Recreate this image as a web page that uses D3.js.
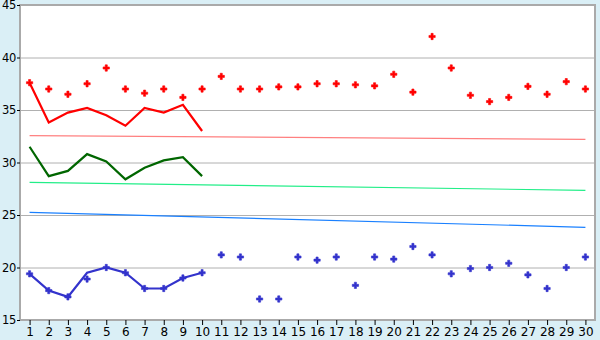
<!DOCTYPE html>
<meta charset="utf-8">
<head>
  <title>Chart</title>
  <script src="https://d3js.org/d3.v7.min.js"></script>
  <style>
    body { margin: 0; background: #daeff6; }
    text { font-family: "DejaVu Sans", sans-serif; font-size: 12px; fill: #000; }
    .grid line { stroke: #b0b0b0; }
    .grid path { display: none; }
  </style>
</head>
<body>
<script>
  var days = d3.range(1, 31);
  var yTicks = [15, 20, 25, 30, 35, 40, 45];

  var redPoints = [37.6, 37.0, 36.5, 37.5, 39.0, 37.0, 36.6, 37.0, 36.2, 37.0,
                   38.2, 37.0, 37.0, 37.2, 37.2, 37.5, 37.5, 37.4, 37.3, 38.4,
                   36.7, 42.0, 39.0, 36.4, 35.8, 36.2, 37.25, 36.5, 37.7, 37.0];
  var redLine = [37.6, 33.8, 34.75, 35.2, 34.5, 33.5, 35.2, 34.75, 35.5, 33.0];
  var greenLine = [31.5, 28.7, 29.2, 30.8, 30.1, 28.4, 29.5, 30.2, 30.5, 28.7];
  var bluePoints = [19.4, 17.8, 17.2, 18.9, 20.0, 19.5, 18.0, 18.0, 19.0, 19.5,
                    21.2, 21.0, 17.0, 17.0, 21.0, 20.7, 21.0, 18.3, 21.0, 20.8,
                    22.0, 21.2, 19.4, 19.9, 20.0, 20.4, 19.3, 18.0, 20.0, 21.0];
  var blueLine = [19.4, 17.8, 17.2, 19.5, 20.0, 19.5, 18.0, 18.0, 19.0, 19.5];
  // trend lines: value at day 1 and day 30
  var redTrend = [32.56, 32.2];
  var greenTrend = [28.1, 27.35];
  var blueTrend = [25.25, 23.83];

  var margin = { top: 5, right: 5, bottom: 20, left: 20 };
  var width = 600 - margin.left - margin.right;
  var height = 340 - margin.top - margin.bottom;

  var svg = d3.select("body").append("svg")
    .attr("width", 600)
    .attr("height", 340)
    .append("g")
    .attr("transform", "translate(" + margin.left + "," + margin.top + ")");

  var x = d3.scaleLinear().domain([0.5, 30.5]).range([0, width]);
  var y = d3.scaleLinear().domain([15, 45]).range([height, 0]);

  svg.append("rect")
    .attr("width", width).attr("height", height)
    .attr("fill", "#fff");

  svg.append("g")
    .attr("class", "grid")
    .call(d3.axisLeft(y).tickValues(yTicks).tickSize(-width).tickFormat(""));

  // frame
  svg.append("path")
    .attr("d", "M0," + height + "V0H" + width + "V" + height + "H0")
    .attr("fill", "none")
    .attr("stroke", "#aaa")
    .attr("stroke-width", 2);

  var yAxis = svg.append("g")
    .call(d3.axisLeft(y).tickValues(yTicks).tickSize(3).tickPadding(1));
  yAxis.select(".domain").remove();
  yAxis.selectAll("text").style("font-size", "11.5px").style("letter-spacing", "-0.3px");

  var xAxis = svg.append("g")
    .attr("transform", "translate(0," + height + ")")
    .call(d3.axisBottom(x).tickValues(days).tickSize(5).tickPadding(2));
  xAxis.select(".domain").remove();
  xAxis.selectAll("text").style("font-size", "12px");

  var line = d3.line()
    .x(function(d, i) { return x(i + 1); })
    .y(function(d) { return y(d); });

  function trend(v, color) {
    svg.append("line")
      .attr("x1", x(1)).attr("x2", x(30))
      .attr("y1", y(v[0])).attr("y2", y(v[1]))
      .attr("stroke", color)
      .attr("stroke-width", 1.2);
  }
  trend(redTrend, "#ff8080");
  trend(greenTrend, "#22ee88");
  trend(blueTrend, "#1a80ff");

  function series(data, color) {
    svg.append("path")
      .datum(data)
      .attr("fill", "none")
      .attr("stroke", color)
      .attr("stroke-width", 2.2)
      .attr("d", line);
  }
  series(redLine, "#ff0000");
  series(greenLine, "#006600");
  series(blueLine, "#3333cc");

  var marker = d3.symbol().type(d3.symbolCross).size(22);
  function points(data, color) {
    svg.selectAll(null)
      .data(data)
      .enter().append("path")
      .attr("d", marker)
      .attr("fill", color)
      .attr("stroke", color)
      .attr("stroke-width", 0.6)
      .attr("transform", function(d, i) {
        return "translate(" + x(i + 1) + "," + y(d) + ")";
      });
  }
  points(redPoints, "#ff0000");
  points(bluePoints, "#3333cc");
</script>
</body>
</html>
